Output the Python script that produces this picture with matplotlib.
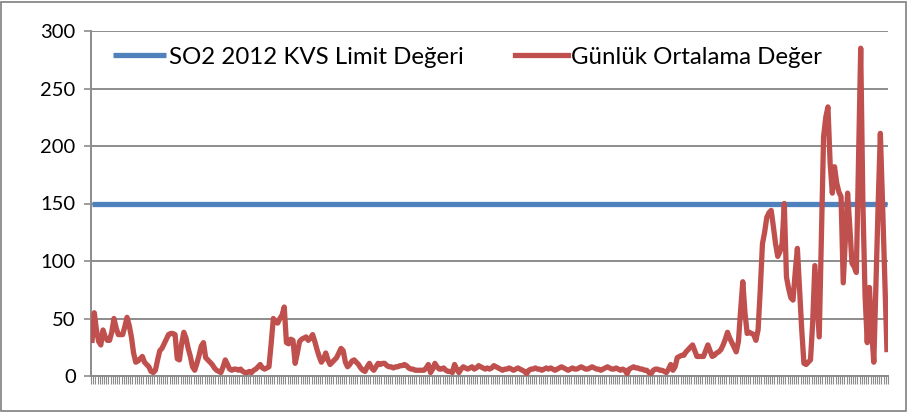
import matplotlib.pyplot as plt
from matplotlib.patches import Rectangle

plt.rcParams['font.family'] = ['Lato', 'DejaVu Sans']

# daily mean SO2 values
gunluk = [
    31, 55, 40, 30, 27, 40, 34, 31, 31, 38,
    50, 42, 36, 36, 36, 43, 51, 44, 34, 20,
    12, 13, 15, 17, 12, 10, 8, 4, 3, 5,
    14, 22, 24, 28, 32, 36, 37, 37, 36, 15,
    14, 28, 38, 33, 24, 17, 8, 5, 11, 18,
    26, 29, 16, 14, 12, 10, 7, 5, 4, 3,
    8, 14, 10, 6, 5, 6, 6, 5, 6, 4,
    3, 3, 4, 3, 5, 6, 8, 10, 7, 6,
    7, 8, 28, 50, 47, 46, 50, 53, 60, 29,
    28, 32, 31, 11, 20, 30, 32, 33, 34, 31,
    33, 36, 30, 23, 17, 12, 15, 20, 14, 10,
    12, 14, 16, 20, 24, 22, 12, 8, 10, 13,
    14, 12, 10, 7, 5, 4, 8, 11, 7, 5,
    8, 11, 10, 11, 11, 9, 8, 8, 7, 8,
    8, 9, 9, 10, 9, 7, 6, 6, 5, 5,
    5, 5, 5, 7, 10, 3, 6, 11, 8, 6,
    6, 7, 5, 4, 4, 3, 10, 6, 3, 6,
    8, 7, 6, 7, 8, 6, 7, 9, 8, 7,
    6, 7, 6, 7, 9, 8, 7, 6, 5, 6,
    6, 7, 6, 5, 6, 7, 6, 5, 4, 2,
    5, 6, 6, 7, 6, 6, 5, 6, 7, 6,
    7, 6, 5, 6, 7, 8, 7, 6, 5, 6,
    7, 6, 6, 7, 8, 7, 6, 6, 7, 8,
    7, 6, 6, 5, 6, 7, 8, 7, 6, 6,
    7, 6, 5, 6, 5, 2, 6, 7, 8, 7,
    7, 6, 6, 5, 5, 3, 2, 5, 6, 6,
    5, 5, 4, 3, 6, 10, 5, 8, 16, 17,
    18, 18, 21, 23, 25, 27, 22, 17, 17, 17,
    17, 22, 27, 22, 17, 18, 20, 21, 23, 27,
    32, 38, 33, 29, 25, 21, 30, 57, 82, 55,
    37, 38, 37, 36, 31, 40, 75, 115, 125, 138,
    142, 144, 130, 115, 104, 108, 115, 150, 86, 76,
    68, 66, 90, 111, 75, 40, 11, 10, 12, 14,
    46, 96, 65, 34, 120, 208, 225, 234, 185, 159,
    182, 168, 160, 156, 81, 120, 159, 130, 98, 95,
    90, 190, 285, 150, 70, 29, 77, 40, 12, 80,
    150, 211, 150, 85, 23,
]
limit = 150
gunler = list(range(len(gunluk)))
limit_vals = [limit] * len(gunluk)
yticks = [0, 50, 100, 150, 200, 250, 300]

fig = plt.figure(figsize=(9.08, 4.12), dpi=100)
ax = fig.add_axes([91 / 908, 1 - 376 / 412, 797 / 908, 345 / 412])

# outer chart border
fig.patches.append(Rectangle((1 / 908, 1 / 412), 905 / 908, 409 / 412, transform=fig.transFigure,
                             fill=False, edgecolor='#7f7f7f', linewidth=1.2))

ax.plot(gunler, limit_vals, color='#4F81BD', linewidth=3.8, label='SO2 2012 KVS Limit Değeri',
        solid_capstyle='butt', zorder=3)
ax.plot(gunler, gunluk, color='#C0504D', linewidth=3.8, label='Günlük Ortalama Değer',
        solid_joinstyle='round', zorder=4)

ax.set_xlim(-0.5, len(gunluk) - 0.5)
ax.set_ylim(0, 300)
ax.set_yticks(yticks)
ax.yaxis.grid(True, color='#8c8c8c', linewidth=1.4)
ax.set_axisbelow(True)

ax.set_xticks([i - 0.5 for i in range(len(gunluk) + 1)])
ax.set_xticklabels([])
ax.tick_params(axis='x', length=6, width=0.8, color='#8c8c8c', direction='out')
ax.tick_params(axis='y', length=5, width=1.2, color='#8c8c8c', labelsize=14.5, pad=6)

for s in ['top', 'right']:
    ax.spines[s].set_visible(False)
ax.spines['left'].set_color('#8c8c8c')
ax.spines['left'].set_linewidth(1.4)
ax.spines['bottom'].set_color('#8c8c8c')
ax.spines['bottom'].set_linewidth(1.4)

ax.legend(loc='center left', bbox_to_anchor=(113 / 908, 1 - 57 / 412), bbox_transform=fig.transFigure,
          ncol=2, frameon=False, fontsize=17.3, borderpad=0, borderaxespad=0,
          handlelength=2.2, columnspacing=2.1, handletextpad=0.15)

fig.savefig('out.png', dpi=100)
